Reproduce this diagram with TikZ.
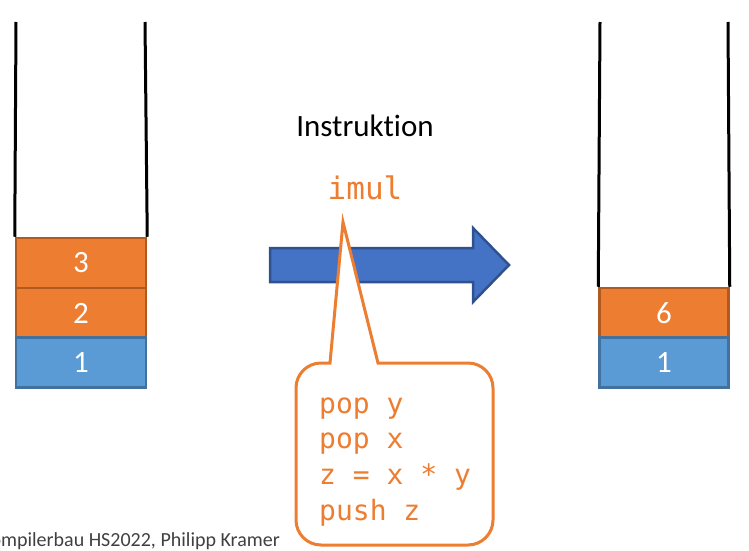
\documentclass[tikz,border=0pt]{standalone}
\usepackage{fontspec}
\setmainfont{Carlito}[Ligatures=NoCommon]
\newfontfamily\codefont{DejaVu Sans Mono}
\definecolor{boxorange}{HTML}{ED7D31}
\definecolor{boxorangeb}{HTML}{AE5A21}
\definecolor{boxblue}{HTML}{5B9BD5}
\definecolor{boxblueb}{HTML}{41719C}
\definecolor{arrowblue}{HTML}{4472C4}
\definecolor{arrowblueb}{HTML}{2F528F}
\definecolor{footgray}{HTML}{404040}
\tikzset{
  cell/.style={rectangle, minimum width=130pt, minimum height=50pt, line width=2.5pt,
    text=white, font=\fontsize{31}{36}\selectfont, inner sep=0pt},
  ocell/.style={cell, fill=boxorange, draw=boxorangeb},
  bcell/.style={cell, fill=boxblue, draw=boxblueb},
  wall/.style={line width=3pt, black},
  code/.style={text=boxorange, font=\codefont\fontsize{28}{36}\selectfont, inner sep=0pt},
}
\begin{document}
\begin{tikzpicture}[x=1pt,y=-1pt]
\useasboundingbox (0,0) rectangle (749,551);
\clip (0,0) rectangle (749,551);
% left stack
\coordinate (lwl) at (16,22);
\coordinate (lwr) at (145,22);
\node[ocell] (l3) at (81,263) {3};
\node[ocell] (l2) at (81,313) {2};
\node[bcell] (l1) at (81,362.5) {1};
\draw[wall] (lwl) -- (l3.north west);
\draw[wall] (lwr) -- (l3.north east);
% right stack
\coordinate (rwl) at (600,22);
\coordinate (rwr) at (728,22);
\node[ocell, minimum width=129pt] (r6) at (664,313) {6};
\node[bcell, minimum width=129pt] (r1) at (664,362.5) {1};
\draw[wall] (rwl) -- (r6.north west);
\draw[wall] (rwr) -- (r6.north east);
% arrow
\draw[fill=arrowblue, draw=arrowblueb, line width=2.5pt, line join=miter]
  (270,248) -- (473,248) -- (473,228) -- (509,265) -- (473,302) -- (473,282) -- (270,282) -- cycle;
% texts
\node[anchor=base, font=\fontsize{31}{36}\selectfont, inner sep=0pt] (instr) at (365,136) {Instruktion};
\node[code, anchor=base, font=\codefont\fontsize{31}{36}\selectfont] (imul) at (365,199) {imul};
% callout
\draw[fill=white, draw=boxorange, line width=3pt, line join=miter]
  (330,363) -- (343,222) -- (378,363) -- (468,363)
  arc[start angle=-90, end angle=0, radius=25] -- (493,520)
  arc[start angle=0, end angle=90, radius=25] -- (321,545)
  arc[start angle=90, end angle=180, radius=25] -- (296,388)
  arc[start angle=180, end angle=270, radius=25] -- cycle;
\node[code, anchor=base west] (c1) at (319,413) {pop y};
\node[code, anchor=base west] (c2) at (319,448) {pop x};
\node[code, anchor=base west] (c3) at (319,484) {z = x * y};
\node[code, anchor=base west] (c4) at (319,520) {push z};
% footer
\node[anchor=base east, text=footgray, font=\fontsize{20}{24}\selectfont, inner sep=0pt] (foot) at (280,546) {Compilerbau HS2022, Philipp Kramer};
\end{tikzpicture}
\end{document}
